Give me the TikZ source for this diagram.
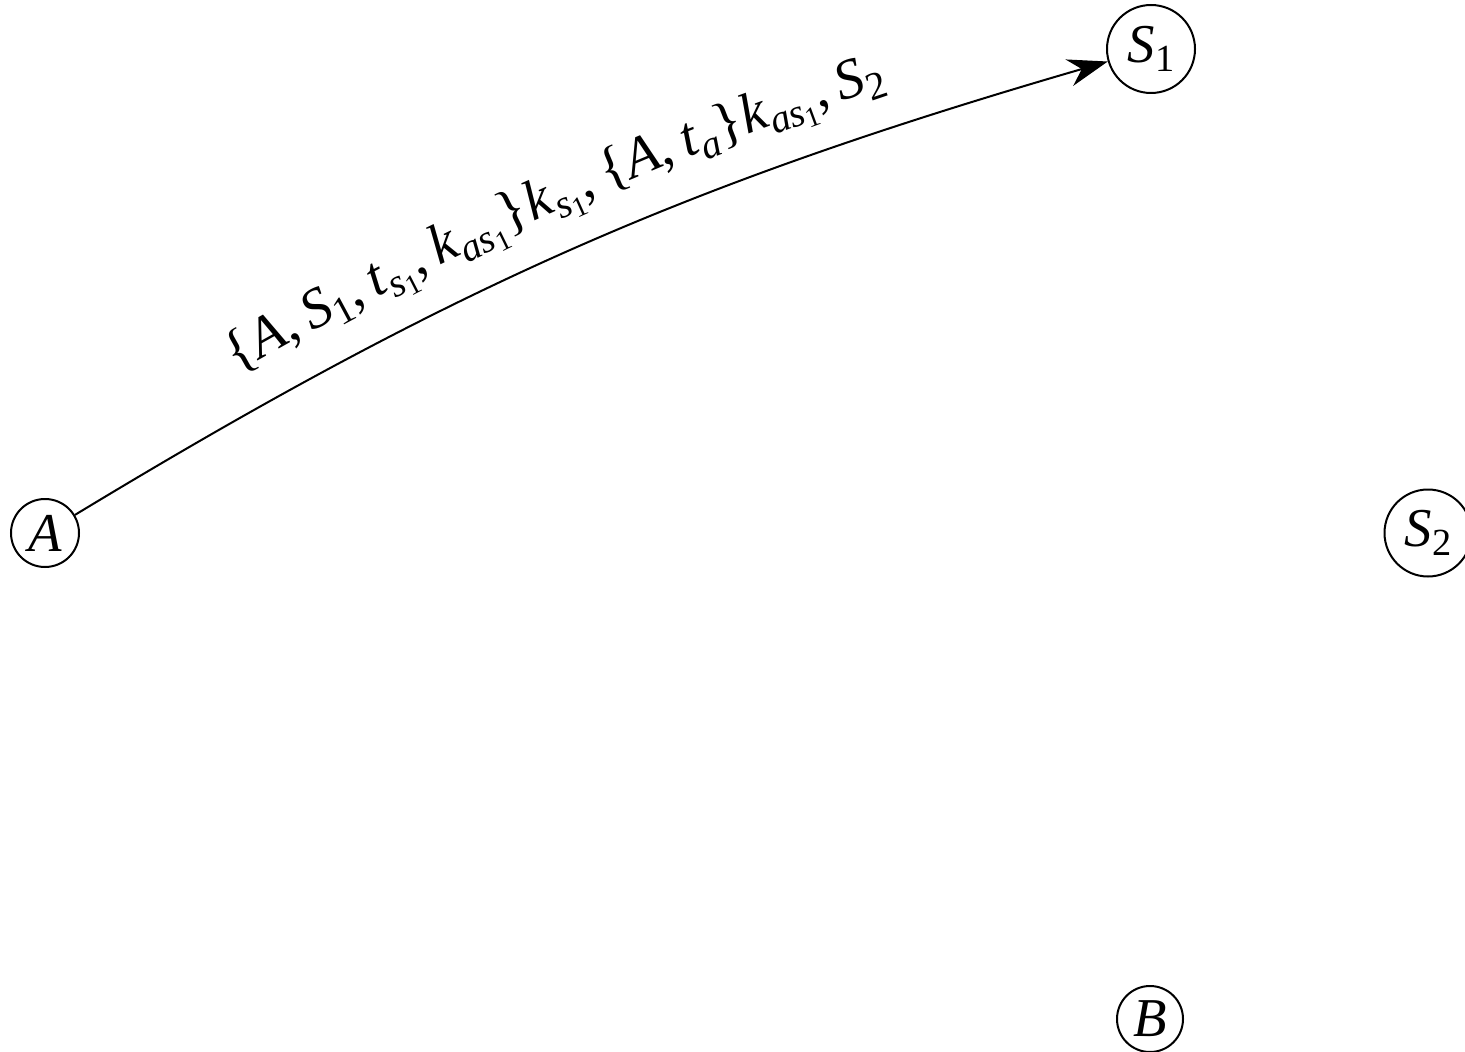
\documentclass[tikz,border=0pt]{standalone}
\usepackage{fontspec}
\setmainfont{Liberation Serif}
\usetikzlibrary{arrows.meta,decorations.markings}
\newcommand\nodefont{\fontsize{10.95}{13}\selectfont}
\newcommand\labfont{\fontsize{11.3}{13}\selectfont}
\newcommand\lsub[1]{\raisebox{-0.17em}{\fontsize{7.9}{9}\selectfont #1}}
\newcommand\lssub[1]{\raisebox{-0.14em}{\fontsize{5.7}{6}\selectfont #1}}
\newcommand\nsub[1]{\raisebox{-0.17em}{\fontsize{7.67}{9}\selectfont #1}}
\newlength\lpos
\newcommand\labmarks{}
\newcommand\addchunk[1]{%
  \setbox0=\hbox{\labfont #1}%
  \xdef\labmarks{\unexpanded\expandafter{\labmarks},mark=at position \the\lpos\space with {\noexpand\node[labchunk]{\unexpanded{#1}};}}%
  \global\advance\lpos by \wd0\relax}
\tikzset{
  nd/.style={draw, circle, inner sep=0pt, font=\nodefont},
  labchunk/.style={anchor=base west, transform shape, inner sep=0pt, yshift=8.2pt, font=\labfont},
  msg/.style={-{Stealth[length=8pt,width=5.5pt]}}
}
\begin{document}
\global\lpos=42pt
\addchunk{\{\textit{A},\,}%
\addchunk{\textit{S}\lsub{1},\,}%
\addchunk{\textit{t}\lsub{\textit{s}\lssub{1}},\,}%
\addchunk{\textit{k}\lsub{\textit{as}\lssub{1}}\}}%
\addchunk{\textit{k}\lsub{\textit{s}\lssub{1}},\,}%
\addchunk{\{\textit{A},\,}%
\addchunk{\textit{t}\lsub{\textit{a}}\}}%
\addchunk{\textit{k}\lsub{\textit{as}\lssub{1}},\,}%
\addchunk{\textit{S}\lsub{2}}%
\edef\tmp{\noexpand\tikzset{labdeco/.style={decoration={markings\unexpanded\expandafter{\labmarks}}}}}\tmp
\begin{tikzpicture}[x=0.2pt,y=-0.2pt]
\useasboundingbox (0,0) rectangle (1465,1052);
\node[nd, minimum size=13.6pt] (A) at (45,533) {\textit{A}};
\node[nd, minimum size=17.6pt] (S1) at (1151,49) {\textit{S}\nsub{1}};
\node[nd, minimum size=17.4pt] (S2) at (1428,533) {\textit{S}\nsub{2}};
\node[nd, minimum size=13.2pt] (B) at (1150,1019) {\textit{B}};
\draw[msg, labdeco, postaction={decorate}] (A) to[bend left=7.5] (S1);
\end{tikzpicture}
\end{document}
